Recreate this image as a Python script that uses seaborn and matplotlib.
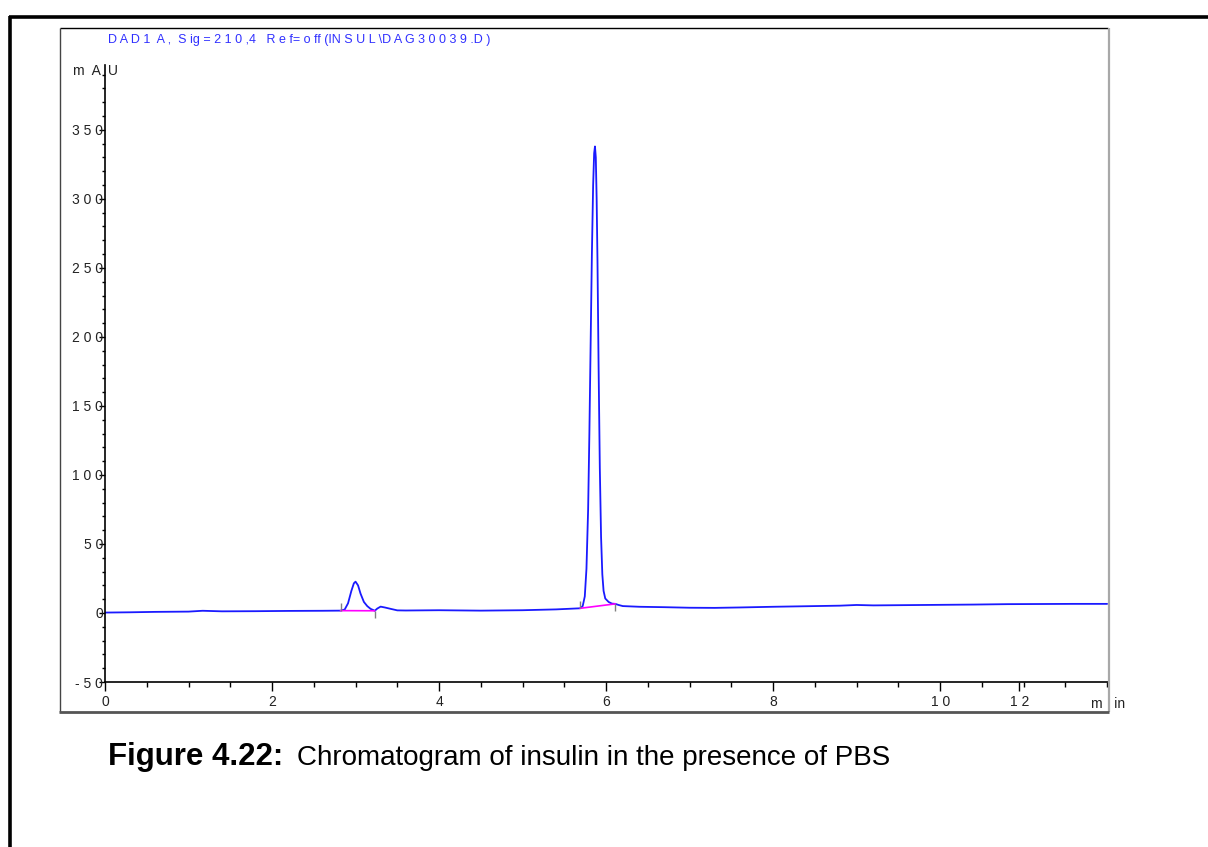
import numpy as np
import pandas as pd
import matplotlib
matplotlib.use("Agg")
import matplotlib.pyplot as plt
import seaborn as sns
from matplotlib.lines import Line2D
from matplotlib.ticker import MultipleLocator

# ---------------- data ----------------
time_min = [0.0, 0.3, 0.6, 1.0, 1.17, 1.4, 1.8, 2.2, 2.6, 2.82, 2.87, 2.91, 2.95, 2.98,
            3.0, 3.03, 3.06, 3.1, 3.14, 3.18, 3.21, 3.23, 3.26, 3.3, 3.35, 3.42, 3.5,
            3.6, 4.0, 4.5, 5.0, 5.4, 5.69, 5.72, 5.745, 5.765, 5.785, 5.80, 5.815,
            5.83, 5.845, 5.857, 5.867, 5.877, 5.887, 5.897, 5.91, 5.925, 5.94, 5.955,
            5.97, 5.99, 6.03, 6.07, 6.11, 6.15, 6.2,
            6.4, 6.7, 7.0, 7.3, 7.6, 8.0, 8.4, 8.8, 9.0, 9.2, 9.6, 10.0, 10.4, 10.8,
            11.2, 11.6, 12.0]
signal_mau = [0.3, 0.5, 0.8, 1.0, 1.6, 1.2, 1.3, 1.5, 1.6, 1.7, 2.5, 7.0, 16.0, 21.5,
              22.7, 20.0, 14.0, 8.0, 5.0, 3.0, 2.2, 1.6, 3.2, 4.6, 4.0, 3.0, 1.9,
              1.8, 2.0, 1.7, 2.0, 2.6, 3.4, 5.0, 12.0, 32.0, 75.0, 130.0, 195.0,
              260.0, 310.0, 333.0, 338.0, 330.0, 300.0, 255.0, 180.0, 105.0, 55.0, 28.0,
              16.0, 10.5, 8.0, 6.8, 6.6, 5.8, 5.0,
              4.5, 4.2, 3.8, 3.7, 4.0, 4.5, 4.9, 5.3, 5.8, 5.5, 5.7, 5.9, 6.1, 6.4,
              6.5, 6.6, 6.6]

# integration baselines (start/end of each peak)
base_peak1_t = [2.82, 3.23]
base_peak1_y = [1.7, 1.6]
base_peak2_t = [5.69, 6.11]
base_peak2_y = [3.4, 6.6]
marker_dir = [1, -1]          # start marker points up, end marker points down

x_tick_pos = [0, 2, 4, 6, 8, 10, 10.95]
x_tick_labels = ["0", "2", "4", "6", "8", "1 0", "1 2"]
y_tick_pos = [-50, 0, 50, 100, 150, 200, 250, 300, 350]
y_tick_labels = ["- 5 0", "0", "5 0", "1 0 0", "1 5 0", "2 0 0", "2 5 0", "3 0 0", "3 5 0"]

title_text = "D A D 1  A ,  S ig = 2 1 0 ,4   R e f= o ff (IN S U L \\D A G 3 0 0 3 9 .D )"
caption_bold = "Figure 4.22:"
caption_rest = "Chromatogram of insulin in the presence of PBS"

# ---------------- styling ----------------
sns.set_theme(style="white")
narrow = ["Liberation Sans Narrow", "Liberation Sans", "DejaVu Sans"]
plt.rcParams["font.family"] = narrow

W, H = 1208, 847
fig = plt.figure(figsize=(W / 100, H / 100), dpi=100)
fig.patch.set_facecolor("white")


def fx(px):
    return px / W


def fy(py):
    return 1 - py / H


ax = fig.add_axes([fx(105), fy(682), fx(1108) - fx(105), fy(65) - fy(682)])
ax.set_facecolor("white")

df = pd.DataFrame({"t": time_min, "s": signal_mau})
sns.lineplot(data=df, x="t", y="s", ax=ax, color="#1a1aff", lw=1.3,
             sort=False, estimator=None)

for bt, by in [(base_peak1_t, base_peak1_y), (base_peak2_t, base_peak2_y)]:
    ax.plot(bt, by, color="#ff00ff", lw=1.2)
    for t, y, d in zip(bt, by, marker_dir):
        ax.vlines(t, y, y + d * 5.5, color="#808080", lw=1.0)

ax.set_xlim(0, 12.01)
ax.set_ylim(-50, 397)

for s in ["top", "right"]:
    ax.spines[s].set_visible(False)
for s in ["left", "bottom"]:
    ax.spines[s].set_color("black")
    ax.spines[s].set_linewidth(1.2)

ax.set_xticks(x_tick_pos)
ax.set_xticklabels(x_tick_labels)
ax.xaxis.set_minor_locator(MultipleLocator(0.5))
ax.set_yticks(y_tick_pos)
ax.set_yticklabels(y_tick_labels)
ax.yaxis.set_minor_locator(MultipleLocator(10))
ax.tick_params(axis="x", which="major", direction="out", length=6.5, width=1,
               color="black", pad=3, labelsize=10, labelcolor="#222222",
               bottom=True)
ax.tick_params(axis="x", which="minor", direction="out", length=3.5, width=1,
               color="black", bottom=True)
ax.tick_params(axis="y", which="major", direction="out", length=4, width=1,
               color="black", pad=-2.5, labelsize=10, labelcolor="#222222", left=True)
ax.tick_params(axis="y", which="minor", direction="out", length=2.5, width=1,
               color="black", left=True)
ax.set_xlabel("")
ax.set_ylabel("")
ax.grid(False)

# axis unit labels
ax.annotate("m  A  U", xy=(0, 1), xycoords="axes fraction", xytext=(-7, -4),
            textcoords="offset points", ha="center", va="center", fontsize=10,
            color="#222222")
ax.annotate("m   in", xy=(1, 0), xycoords="axes fraction", xytext=(0, -16),
            textcoords="offset points", ha="center", va="center", fontsize=10,
            color="#222222")

# signal title
fig.text(fx(108), fy(40), title_text, color="#3030ff", fontsize=9,
         ha="left", va="center")

# frames
def fline(x0, y0, x1, y1, color, lw):
    fig.add_artist(Line2D([fx(x0), fx(x1)], [fy(y0), fy(y1)], color=color, lw=lw,
                          transform=fig.transFigure, solid_capstyle="butt"))

fline(9, 17, 1208, 17, "black", 2.6)
fline(10, 16, 10, 847, "black", 2.6)
fline(59.5, 28.5, 1108, 28.5, "black", 1.0)
fline(59.5, 28, 59.5, 712, "#444444", 1.0)
fline(1108.5, 28, 1108.5, 712, "#a8a8a8", 1.6)
fline(59, 712, 1109, 712, "#555555", 2.0)

# caption
cap_font = ["Liberation Sans", "DejaVu Sans"]
t1 = fig.text(fx(108), fy(765), caption_bold, fontsize=22.5, fontweight="bold",
              family=cap_font, ha="left", va="baseline", color="black")
fig.canvas.draw()
bb = t1.get_window_extent(renderer=fig.canvas.get_renderer())
fig.text(bb.x1 / W + fx(14), fy(765), caption_rest, fontsize=20,
         family=cap_font, ha="left", va="baseline", color="black")

fig.savefig("out.png", dpi=100, facecolor="white")
